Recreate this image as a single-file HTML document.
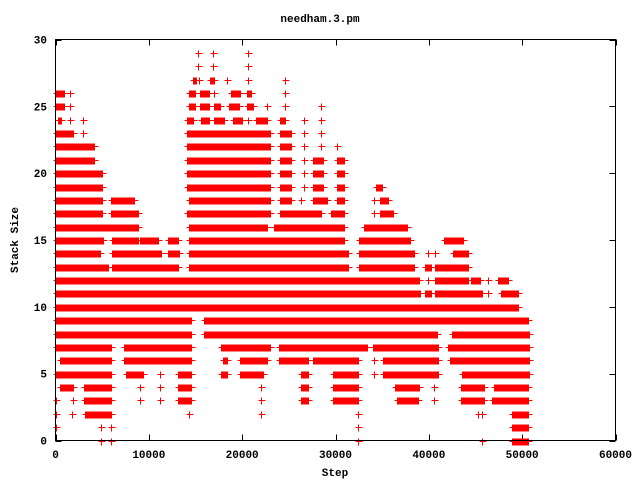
<!DOCTYPE html>
<html><head><meta charset="utf-8"><style>
body{margin:0;background:#fff}
svg{display:block}
text{font-family:"Liberation Mono",monospace;font-size:11px;font-weight:bold;fill:#000}
</style></head><body>
<svg id="chart" width="640" height="480" viewBox="0 0 640 480">
<text x="320" y="22" text-anchor="middle">needham.3.pm</text>
<text transform="translate(18,240) rotate(-90)" text-anchor="middle">Stack Size</text>
<text x="335" y="476" text-anchor="middle">Step</text>
<g id="axes"></g>
<g id="marks"></g>
<rect x="55.5" y="39.5" width="560" height="401" fill="none" stroke="#000" shape-rendering="crispEdges"/>
</svg>
<script>
const xTicks=[0,10000,20000,30000,40000,50000,60000];
const yTicks=[0,5,10,15,20,25,30];
// step ranges (thousands) where points occur, indexed by stack size level
const level0=[[4.9],[5.9],[32.4],[45.7],[48.9,50.6]];
const level1=[[0],[4.9],[5.9],[32.4],[48.9,50.6]];
const level2=[[0],[1.8],[3.2,5.9],[14.3],[22.0],[32.4],[45.3],[45.7],[48.9,50.6]];
const level3=[[0],[1.9],[3.0,5.9],[9.1],[11.2],[13.1,14.5],[22.0],[26.25,27.1],[29.7,32.4],[36.6,38.8],[40.5],[43.4,45.9],[46.8,50.6]];
const level4=[[0.5,1.9],[3.0,5.9],[9.1],[11.2],[13.1,14.5],[22.0],[26.25,27.1],[29.7,32.4],[36.4,38.9],[40.5],[43.4,45.9],[47.0,50.6]];
const level5=[[0,5.9],[7.5,9.4],[11.2],[13.1,14.5],[17.7,18.4],[19.8,22.2],[26.25,27.1],[29.7,32.4],[34.1],[35.1,41.0],[43.6,50.7]];
const level6=[[0.5,5.9],[7.3,14.5],[17.9,18.4],[19.8,22.7],[23.9,27.1],[27.6,32.4],[34.1],[35.1,41.0],[42.3,50.7]];
const level7=[[0,5.9],[7.3,14.5],[17.7,23.0],[23.9,33.4],[34.0,41.0],[42.1,50.7]];
const level8=[[0,14.5],[15.9,40.9],[42.5,50.7]];
const level9=[[0,14.5],[15.9,50.6]];
const level10=[[0,49.5]];
const level11=[[0,39.1],[39.6,40.2],[40.7,45.7],[46.3],[47.7,49.6]];
const level12=[[0,38.9],[39.9],[40.7,44.2],[44.5,45.5],[46.3],[47.4,48.5]];
const level13=[[0,5.6],[6.1,13.1],[14.25,31.3],[32.5,38.4],[39.6,40.2],[40.7,44.2]];
const level14=[[0,4.8],[6.1,11.25],[12.0,13.2],[14.25,31.3],[32.5,38.4],[39.9],[40.7],[42.6,44.2]];
const level15=[[0,5.1],[6.1,8.8],[9.1,11.0],[12.0,13.1],[14.35,30.9],[32.5,38.0],[41.6,43.7]];
const level16=[[0,8.8],[14.25,22.7],[23.4,30.9],[33.0,37.7]];
const level17=[[0,5.0],[5.9,8.8],[14.1,23.0],[24.1,28.4],[29.5,30.9],[34.1],[34.8,36.2]];
const level18=[[0,5.0],[5.9,8.4],[14.25,23.0],[24.1,25.2],[26.25],[27.6,29.1],[30.2,30.9],[34.1],[34.8,35.6]];
const level19=[[0,5.0],[14.1,23.0],[24.1,25.2],[26.6],[27.6,28.7],[30.2,30.9],[34.3,35.0]];
const level20=[[0,5.0],[14.1,23.0],[24.1,25.2],[26.6],[27.6,28.7],[30.2,30.9]];
const level21=[[0,4.1],[14.1,23.0],[24.1,25.2],[26.6],[27.6,28.7],[30.2,30.9]];
const level22=[[0,4.1],[14.1,23.0],[24.1,25.2],[26.6],[28.4],[30.2]];
const level23=[[0,1.9],[2.9],[14.1,23.0],[24.1,25.2],[26.6],[28.4]];
const level24=[[0.3,0.6],[1.6],[2.9],[14.1,14.7],[15.6,16.4],[17.0,18.0],[19.0,20.0],[20.6],[21.5,22.7],[24.1,24.6],[26.6],[28.4]];
const level25=[[0,0.9],[1.6],[14.25,14.9],[15.5,16.4],[17.0,17.6],[18.6,19.7],[20.5,21.2],[22.7],[24.6],[28.4]];
const level26=[[0,0.9],[1.6],[14.25,14.9],[15.5,16.4],[17.0],[18.8,19.8],[20.5,20.9],[24.6]];
const level27=[[14.7,15.0],[15.4],[16.5,17.0],[18.4],[20.6],[24.6]];
const level28=[[15.3],[16.9],[20.6]];
const level29=[[15.3],[16.9],[20.6]];
const levels=[level0,level1,level2,level3,level4,level5,level6,level7,level8,level9,level10,level11,level12,level13,level14,level15,level16,level17,level18,level19,level20,level21,level22,level23,level24,level25,level26,level27,level28,level29];

const X0=55.5,X1=615.5,Y0=440.5,Y1=39.5,XMAX=60000,YMAX=30;
function xs(v){return X0+(v/XMAX)*(X1-X0);}
function ys(v){return Y0-(v/YMAX)*(Y0-Y1);}
const NS="http://www.w3.org/2000/svg";
const axes=document.getElementById('axes');
let ap="";
xTicks.forEach(t=>{const x=Math.round(xs(t))+0.5;ap+=`M${x} ${Y0}v-6M${x} ${Y1}v6`;
 const tx=document.createElementNS(NS,'text');
 
 
 tx.setAttribute('x',xs(t));tx.setAttribute('y',458);tx.setAttribute('text-anchor','middle');tx.textContent=t;axes.appendChild(tx);});
yTicks.forEach(t=>{const y=Math.round(ys(t))+0.5;ap+=`M${X0} ${y}h6M${X1} ${y}h-6`;
 const tx=document.createElementNS(NS,'text');
 
 
 tx.setAttribute('x',47);tx.setAttribute('y',ys(t)+4);tx.setAttribute('text-anchor','end');tx.textContent=t;axes.appendChild(tx);});
const tp=document.createElementNS(NS,'path');


tp.setAttribute('d',ap);tp.setAttribute('stroke','#000');tp.setAttribute('shape-rendering','crispEdges');axes.appendChild(tp);

const marks=document.getElementById('marks');
levels.forEach((ranges,lv)=>{
 const y=Math.round(ys(lv))+0.5;
 let d="";
 function plus(step){const x=Math.round(xs(step))+0.5;d+=`M${x-3} ${y}h7M${x} ${y-3}v7`;}
 ranges.forEach(r=>{
  const a=r[0]*1000,b=(r.length>1?r[1]:r[0])*1000;
  if(b<=a){plus(a);return;}
  for(let s=a;s<=b;s+=100)plus(s);
  plus(b);
 });
 const p=document.createElementNS(NS,'path');
 
 
 p.setAttribute('d',d);
 p.setAttribute('stroke','#ff0000');
 p.setAttribute('stroke-width','1');
 p.setAttribute('fill','none');
 marks.appendChild(p);
});
</script>
</body></html>
